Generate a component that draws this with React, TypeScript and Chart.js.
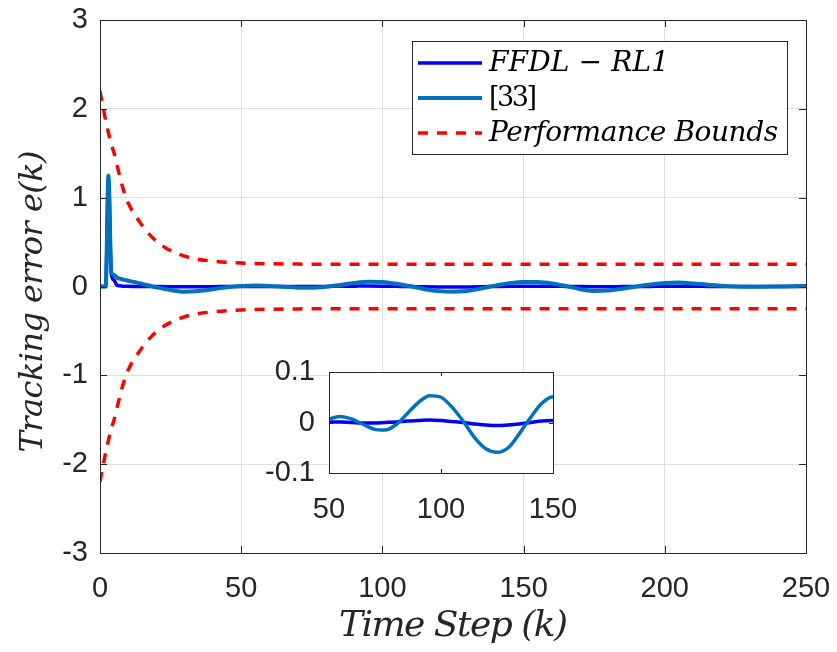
import React, { useEffect, useRef } from "react";
import { Chart, registerables } from "chart.js";
Chart.register(...registerables);

// ---- data ----
const steps = [0, 1, 2, 3, 4, 5, 6, 8, 10, 12, 15, 20, 25, 30, 35, 40, 45, 50, 55, 60, 65, 70, 75, 80, 85, 90, 95, 100, 105, 110, 115, 120, 125, 130, 135, 140, 145, 150, 155, 160, 165, 170, 175, 180, 185, 190, 195, 200, 205, 210, 215, 220, 225, 230, 235, 240, 245, 250];
const ffdlRl1 = [0, 0, 0, 1.2, 0.14, 0.07, 0.015, 0.004, 0.002, 0.001, 0, -0.001, -0.002, -0.003, -0.003, -0.002, 0, 0.001, 0.001, 0, -0.001, -0.001, 0, 0.001, 0.003, 0.004, 0.005, 0.004, 0.002, 0, -0.003, -0.005, -0.006, -0.005, -0.003, 0, 0.003, 0.004, 0.004, 0.003, 0.001, -0.001, -0.002, -0.002, -0.001, 0, 0.001, 0.002, 0.002, 0.002, 0.001, 0, 0, 0, 0, 0, 0, 0];
const ref33 = [0, 0, 0, 1.25, 0.16, 0.13, 0.1, 0.08, 0.065, 0.05, 0.03, -0.01, -0.04, -0.058, -0.05, -0.03, -0.008, 0.006, 0.012, 0.007, -0.003, -0.013, -0.015, -0.004, 0.018, 0.04, 0.053, 0.05, 0.03, 0.002, -0.03, -0.052, -0.059, -0.05, -0.022, 0.01, 0.038, 0.051, 0.05, 0.035, 0.005, -0.03, -0.05, -0.045, -0.025, 0, 0.022, 0.04, 0.045, 0.035, 0.02, 0.008, 0, -0.003, -0.003, 0, 0.003, 0.005];
const boundSteps = [0, 1, 2, 3, 4, 5, 6, 7, 8, 9, 10, 12, 14, 16, 18, 20, 23, 26, 30, 35, 40, 45, 50, 60, 70, 100, 150, 200, 250];
const upperBound = [2.2, 2.03, 1.87, 1.73, 1.6, 1.5, 1.37, 1.24, 1.12, 1.02, 0.94, 0.82, 0.73, 0.64, 0.57, 0.51, 0.44, 0.39, 0.34, 0.305, 0.285, 0.272, 0.264, 0.256, 0.252, 0.25, 0.25, 0.25, 0.25];
const lowerBound = [-2.2, -2.03, -1.87, -1.73, -1.6, -1.5, -1.37, -1.24, -1.12, -1.02, -0.94, -0.82, -0.73, -0.64, -0.57, -0.51, -0.44, -0.39, -0.34, -0.305, -0.285, -0.272, -0.264, -0.256, -0.252, -0.25, -0.25, -0.25, -0.25];

const xTicksMain = [0, 50, 100, 150, 200, 250];
const yTicksMain = [-3, -2, -1, 0, 1, 2, 3];
const xTicksInset = [50, 100, 150];
const yTicksInset = [-0.1, 0, 0.1];
const yTickLabelsInset = ["-0.1", "0", "0.1"];
const legendLabels = ["FFDL \u2212 RL1", "[33]", "Performance Bounds"];
const xTitle = "Time Step (k)";
const yTitle = "Tracking error e(k)";

const C_FFDL = "#0000ff";
const C_REF = "#0072bd";
const C_BOUND = "#ff0000";
const AXIS = "#262626";
const GRID = "#dfdfdf";
const TICK_FONT = { family: "'Liberation Sans', Arial, sans-serif", size: 29 };
const SERIF = "\"DejaVu Serif\", \"Liberation Serif\", serif";

const pts = (xs: number[], ys: number[]) => xs.map((x, i) => ({ x, y: ys[i] }));

const zeroPadX = (h: number) => (s: any) => { s.height = h; s.paddingLeft = 0; s.paddingRight = 0; };
const zeroPadY = (w: number) => (s: any) => { s.width = w; s.paddingTop = 0; s.paddingBottom = 0; };

// draw text left-aligned at x so that it spans about `target` px
function fitText(ctx: any, text: string, x: number, y: number, target: number) {
  ctx.letterSpacing = "0px";
  const w = ctx.measureText(text).width;
  const n = Math.max(1, text.length - 1);
  ctx.letterSpacing = ((target - w) / n).toFixed(2) + "px";
  ctx.textAlign = "left";
  ctx.fillText(text, x, y);
  ctx.letterSpacing = "0px";
}

const boxTicksPlugin = (len: number) => ({
  id: "boxTicks",
  afterDatasetsDraw(chart: any) {
    const { ctx, chartArea: a, scales } = chart;
    ctx.save();
    ctx.strokeStyle = AXIS;
    ctx.lineWidth = 1;
    ctx.setLineDash([]);
    ctx.beginPath();
    scales.x.ticks.forEach((t: any) => {
      const px = Math.round(scales.x.getPixelForValue(t.value)) + 0.5;
      ctx.moveTo(px, a.bottom);
      ctx.lineTo(px, a.bottom - len);
      ctx.moveTo(px, a.top);
      ctx.lineTo(px, a.top + len);
    });
    scales.y.ticks.forEach((t: any) => {
      const py = Math.round(scales.y.getPixelForValue(t.value)) + 0.5;
      ctx.moveTo(a.left, py);
      ctx.lineTo(a.left + len, py);
      ctx.moveTo(a.right, py);
      ctx.lineTo(a.right - len, py);
    });
    ctx.stroke();
    ctx.strokeRect(Math.round(a.left) + 0.5, Math.round(a.top) + 0.5, Math.round(a.right - a.left), Math.round(a.bottom - a.top));
    ctx.restore();
  },
});

const whiteAreaPlugin = {
  id: "whiteArea",
  beforeDraw(chart: any) {
    const { ctx, chartArea: a } = chart;
    ctx.save();
    ctx.fillStyle = "#ffffff";
    ctx.fillRect(a.left, a.top, a.right - a.left, a.bottom - a.top);
    ctx.restore();
  },
};

const titlesPlugin = {
  id: "titles",
  afterDraw(chart: any) {
    const { ctx, chartArea: a } = chart;
    ctx.save();
    ctx.fillStyle = AXIS;
    ctx.textBaseline = "alphabetic";
    ctx.font = "italic 36px " + SERIF;
    const cx = (a.left + a.right) / 2;
    fitText(ctx, xTitle, cx - 114, a.bottom + 83, 229);
    ctx.font = "italic 32px " + SERIF;
    ctx.translate(a.left - 58, (a.top + a.bottom) / 2 + 15);
    ctx.rotate(-Math.PI / 2);
    fitText(ctx, yTitle, -151, 0, 302);
    ctx.restore();
  },
};

const legendPlugin = {
  id: "customLegend",
  afterDraw(chart: any) {
    const { ctx, chartArea: a } = chart;
    const right = a.right - 19;
    const left = right - 375;
    const top = a.top + 21;
    const h = 113;
    const rowsY = [top + 22, top + 57, top + 92];
    const targets = [180, 48, 289];
    const styles = [
      { color: C_FFDL, width: 3.5, dash: [] as number[], font: "italic 28px " + SERIF },
      { color: C_REF, width: 4, dash: [] as number[], font: "27px " + SERIF },
      { color: C_BOUND, width: 3.5, dash: [10, 9], font: "italic 28px " + SERIF },
    ];
    ctx.save();
    ctx.fillStyle = "#ffffff";
    ctx.fillRect(left, top, right - left, h);
    ctx.strokeStyle = AXIS;
    ctx.lineWidth = 1;
    ctx.strokeRect(Math.round(left) + 0.5, Math.round(top) + 0.5, right - left, h);
    legendLabels.forEach((label, i) => {
      const s = styles[i];
      const y = rowsY[i];
      ctx.beginPath();
      ctx.strokeStyle = s.color;
      ctx.lineWidth = s.width;
      ctx.setLineDash(s.dash);
      ctx.moveTo(left + 6, y);
      ctx.lineTo(left + 70, y);
      ctx.stroke();
      ctx.setLineDash([]);
      ctx.fillStyle = "#000000";
      ctx.font = s.font;
      ctx.textBaseline = "alphabetic";
      fitText(ctx, label, left + 77, y + 8, targets[i]);
    });
    ctx.restore();
  },
};

export default function App() {
  const mainRef = useRef<HTMLCanvasElement>(null);
  const insetRef = useRef<HTMLCanvasElement>(null);

  useEffect(() => {
    const main = new Chart(mainRef.current as HTMLCanvasElement, {
      type: "line",
      data: {
        datasets: [
          { label: legendLabels[0], data: pts(steps, ffdlRl1), borderColor: C_FFDL, borderWidth: 3.5, pointRadius: 0, cubicInterpolationMode: "monotone", order: 1 },
          { label: legendLabels[1], data: pts(steps, ref33), borderColor: C_REF, borderWidth: 4, pointRadius: 0, cubicInterpolationMode: "monotone", order: 0 },
          { label: legendLabels[2], data: pts(boundSteps, upperBound), borderColor: C_BOUND, borderWidth: 3.5, borderDash: [10, 9], pointRadius: 0, cubicInterpolationMode: "monotone", order: 2 },
          { label: "lower", data: pts(boundSteps, lowerBound), borderColor: C_BOUND, borderWidth: 3.5, borderDash: [10, 9], pointRadius: 0, cubicInterpolationMode: "monotone", order: 2 },
        ],
      },
      options: {
        animation: false,
        responsive: false,
        devicePixelRatio: 1,
        parsing: false as any,
        layout: { padding: { left: 0, right: 31, top: 20, bottom: 0 } },
        plugins: { legend: { display: false }, tooltip: { enabled: false }, title: { display: false } },
        scales: {
          x: {
            type: "linear",
            min: 0,
            max: 250,
            afterBuildTicks: (s: any) => { s.ticks = xTicksMain.map((v) => ({ value: v })); },
            afterFit: zeroPadX(99),
            grid: { color: GRID, lineWidth: 1, drawTicks: false },
            border: { display: false },
            ticks: { padding: 19, font: TICK_FONT, color: AXIS, maxRotation: 0, autoSkip: false, callback: (v: any) => String(v) },
          },
          y: {
            type: "linear",
            min: -3,
            max: 3,
            afterBuildTicks: (s: any) => { s.ticks = yTicksMain.map((v) => ({ value: v })); },
            afterFit: zeroPadY(100),
            grid: { color: GRID, lineWidth: 1, drawTicks: false },
            border: { display: false },
            ticks: { padding: 12, font: TICK_FONT, color: AXIS, autoSkip: false, callback: (v: any) => String(v) },
          },
        },
      } as any,
      plugins: [boxTicksPlugin(7), titlesPlugin, legendPlugin],
    });

    const inset = new Chart(insetRef.current as HTMLCanvasElement, {
      type: "line",
      data: {
        datasets: [
          { label: legendLabels[0], data: pts(steps, ffdlRl1), borderColor: C_FFDL, borderWidth: 3.5, pointRadius: 0, cubicInterpolationMode: "monotone", order: 1 },
          { label: legendLabels[1], data: pts(steps, ref33), borderColor: C_REF, borderWidth: 3.5, pointRadius: 0, cubicInterpolationMode: "monotone", order: 0 },
        ],
      },
      options: {
        animation: false,
        responsive: false,
        devicePixelRatio: 1,
        parsing: false as any,
        layout: { padding: { left: 0, right: 47, top: 17, bottom: 0 } },
        plugins: { legend: { display: false }, tooltip: { enabled: false }, title: { display: false } },
        scales: {
          x: {
            type: "linear",
            min: 50,
            max: 150,
            afterBuildTicks: (s: any) => { s.ticks = xTicksInset.map((v) => ({ value: v })); },
            afterFit: zeroPadX(52),
            grid: { display: false, drawTicks: false },
            border: { display: false },
            ticks: { padding: 20, font: TICK_FONT, color: AXIS, maxRotation: 0, autoSkip: false, callback: (v: any) => String(v) },
          },
          y: {
            type: "linear",
            min: -0.1,
            max: 0.1,
            afterBuildTicks: (s: any) => { s.ticks = yTicksInset.map((v) => ({ value: v })); },
            afterFit: zeroPadY(79),
            grid: { display: false, drawTicks: false },
            border: { display: false },
            ticks: {
              padding: 14, font: TICK_FONT, color: AXIS, autoSkip: false,
              callback: (v: any) => {
                const idx = yTicksInset.findIndex((t) => Math.abs(t - v) < 1e-9);
                return idx >= 0 ? yTickLabelsInset[idx] : "";
              },
            },
          },
        },
      } as any,
      plugins: [whiteAreaPlugin, boxTicksPlugin(4)],
    });

    return () => {
      main.destroy();
      inset.destroy();
    };
  }, []);

  return (
    <div style={{ position: "absolute", left: 0, top: 0, width: 837, height: 652, background: "#ffffff" }}>
      <canvas ref={mainRef} width={837} height={652} style={{ position: "absolute", left: 0, top: 0, width: 837, height: 652 }} />
      <canvas ref={insetRef} width={350} height={170} style={{ position: "absolute", left: 250, top: 355, width: 350, height: 170 }} />
    </div>
  );
}
